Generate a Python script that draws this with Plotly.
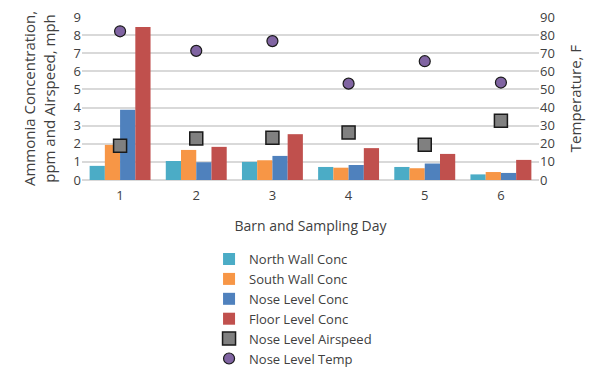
import plotly.graph_objects as go

days = ["1", "2", "3", "4", "5", "6"]
north_wall = [0.78, 1.05, 1.00, 0.72, 0.72, 0.31]
south_wall = [1.94, 1.66, 1.09, 0.68, 0.65, 0.44]
nose_level = [3.88, 0.98, 1.33, 0.83, 0.91, 0.39]
floor_level = [8.45, 1.83, 2.53, 1.76, 1.44, 1.11]
airspeed = [1.89, 2.29, 2.33, 2.62, 1.94, 3.27]
temp = [82.1, 71.3, 76.7, 53.2, 65.6, 53.8]

font_family = "Open Sans"
txt = "#404040"

fig = go.Figure()
for name, vals, col in [
    ("North Wall Conc", north_wall, "#4BACC6"),
    ("South Wall Conc", south_wall, "#F79646"),
    ("Nose Level Conc", nose_level, "#4F81BD"),
    ("Floor Level Conc", floor_level, "#C0504D"),
]:
    fig.add_trace(go.Bar(x=days, y=vals, name=name, marker=dict(color=col, line=dict(width=0))))

fig.add_trace(go.Scatter(
    x=days, y=airspeed, name="Nose Level Airspeed", mode="markers",
    marker=dict(symbol="square", size=13, color="#808080", line=dict(color="#1a1a1a", width=1.5)),
))
fig.add_trace(go.Scatter(
    x=days, y=temp, name="Nose Level Temp", mode="markers", yaxis="y2",
    marker=dict(symbol="circle", size=11, color="#8064A2", line=dict(color="#1a1a1a", width=1.2)),
))

fig.update_layout(
    width=592, height=370,
    margin=dict(l=74, r=61, t=9, b=198, autoexpand=False),
    paper_bgcolor="white", plot_bgcolor="white",
    font=dict(family=font_family, size=13, color=txt),
    barmode="group", bargap=0.2, bargroupgap=0,
    showlegend=True,
    legend=dict(x=0.278, y=-0.393, xanchor="left", yanchor="top",
                font=dict(size=13, color=txt), traceorder="normal",
                bgcolor="rgba(0,0,0,0)"),
    xaxis=dict(type="category", showgrid=False, ticks="", showline=False,
               title=dict(text="Barn and Sampling Day", font=dict(size=14, color=txt), standoff=18),
               tickfont=dict(size=13, color=txt), ticklabelstandoff=6),
    yaxis=dict(range=[0, 9], dtick=1, showgrid=True, gridcolor="#d9d9d9", gridwidth=1.5,
               zeroline=True, zerolinecolor="#d9d9d9", zerolinewidth=1.5,
               ticks="", tickfont=dict(size=13, color=txt), ticklabeloverflow="allow",
               title=dict(text="Ammonia Concentration,<br>ppm and Airspeed, mph",
                          font=dict(size=15, color=txt), standoff=14)),
    yaxis2=dict(range=[0, 90], dtick=10, overlaying="y", side="right", showgrid=False,
                zeroline=False, ticks="", tickfont=dict(size=13, color=txt), ticklabeloverflow="allow",
                title=dict(text="Temperature, F", font=dict(size=15, color=txt), standoff=16)),
)

fig.write_html("out.html")
